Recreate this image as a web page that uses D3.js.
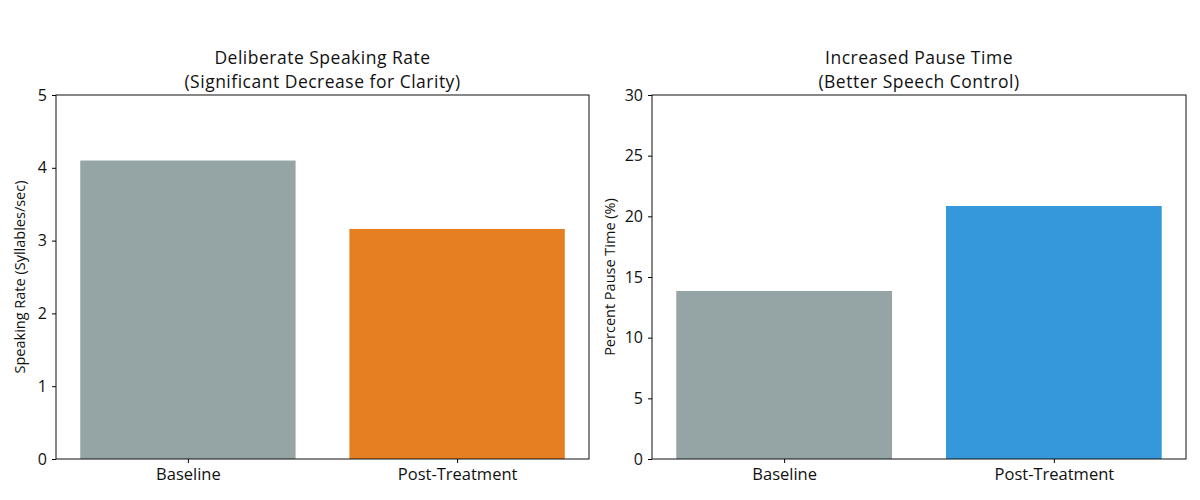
<!DOCTYPE html>
<html>
<head>
<meta charset="utf-8">
<script src="https://cdn.jsdelivr.net/npm/d3@7"></script>
<style>
  body { margin: 0; background: #fff; }
  svg text { font-family: "Open Sans", Roboto, sans-serif; fill: #111; }
</style>
</head>
<body>
<svg id="canvas"></svg>
<script>
var w = 1200;
var h = 500;

var categories = ["Baseline", "Post-Treatment"];
var rateValues = [4.1, 3.16];
var pauseValues = [13.85, 20.85];
var rateTicks = [0, 1, 2, 3, 4, 5];
var pauseTicks = [0, 5, 10, 15, 20, 25, 30];

var svg = d3.select("#canvas")
  .attr("width", w)
  .attr("height", h);

function drawPanel(opts) {
  var left = opts.left, right = opts.right, top = 95, bottom = 459;
  var g = svg.append("g");

  // matplotlib style: bars 0.8 wide, 5% margins
  var x = d3.scaleLinear().domain([-0.49, 1.49]).range([left, right]);
  var y = d3.scaleLinear().domain(opts.domain).range([bottom, top]);

  g.selectAll(".bar")
    .data(opts.values)
    .enter()
    .append("rect")
    .attr("class", "bar")
    .attr("x", (d, i) => x(i - 0.4))
    .attr("width", x(0.4) - x(-0.4))
    .attr("y", d => y(d))
    .attr("height", d => y(0) - y(d))
    .attr("fill", (d, i) => opts.colors[i]);

  // frame
  g.append("rect")
    .attr("x", left).attr("y", top)
    .attr("width", right - left).attr("height", bottom - top)
    .attr("fill", "none").attr("stroke", "#111").attr("stroke-width", 1);

  var yAxis = g.append("g")
    .attr("transform", "translate(" + left + ",0)")
    .call(d3.axisLeft(y).tickValues(opts.ticks).tickSize(4).tickPadding(5).tickFormat(d3.format("d")));
  yAxis.select(".domain").remove();
  yAxis.selectAll("text").style("font-size", "16px");

  var xAxis = g.append("g")
    .attr("transform", "translate(0," + bottom + ")")
    .call(d3.axisBottom(x).tickValues([0, 1]).tickSize(4).tickPadding(5)
      .tickFormat((d, i) => categories[i]));
  xAxis.select(".domain").remove();
  xAxis.selectAll("text").style("font-size", "16.5px");

  g.append("text")
    .attr("transform", "translate(" + (left - opts.labelGap) + "," + ((top + bottom) / 2) + ") rotate(-90)")
    .attr("text-anchor", "middle")
    .attr("dy", "0.35em")
    .style("font-size", "14.5px")
    .text(opts.ylabel);

  // two-line title, one text element per line
  var cx = (left + right) / 2;
  g.selectAll(".title")
    .data(opts.title)
    .enter()
    .append("text")
    .attr("class", "title")
    .attr("x", cx)
    .attr("y", (d, i) => 64 + i * 24)
    .attr("text-anchor", "middle")
    .style("font-size", "17.5px")
    .style("letter-spacing", "0.5px")
    .text(d => d);
}

drawPanel({
  left: 56, right: 589, labelGap: 36,
  domain: [0, 5], ticks: rateTicks, values: rateValues,
  colors: ["#95a5a6", "#e67e22"],
  ylabel: "Speaking Rate (Syllables/sec)",
  title: ["Deliberate Speaking Rate", "(Significant Decrease for Clarity)"]
});

drawPanel({
  left: 652, right: 1186, labelGap: 42,
  domain: [0, 30], ticks: pauseTicks, values: pauseValues,
  colors: ["#95a5a6", "#3498db"],
  ylabel: "Percent Pause Time (%)",
  title: ["Increased Pause Time", "(Better Speech Control)"]
});
</script>
</body>
</html>
